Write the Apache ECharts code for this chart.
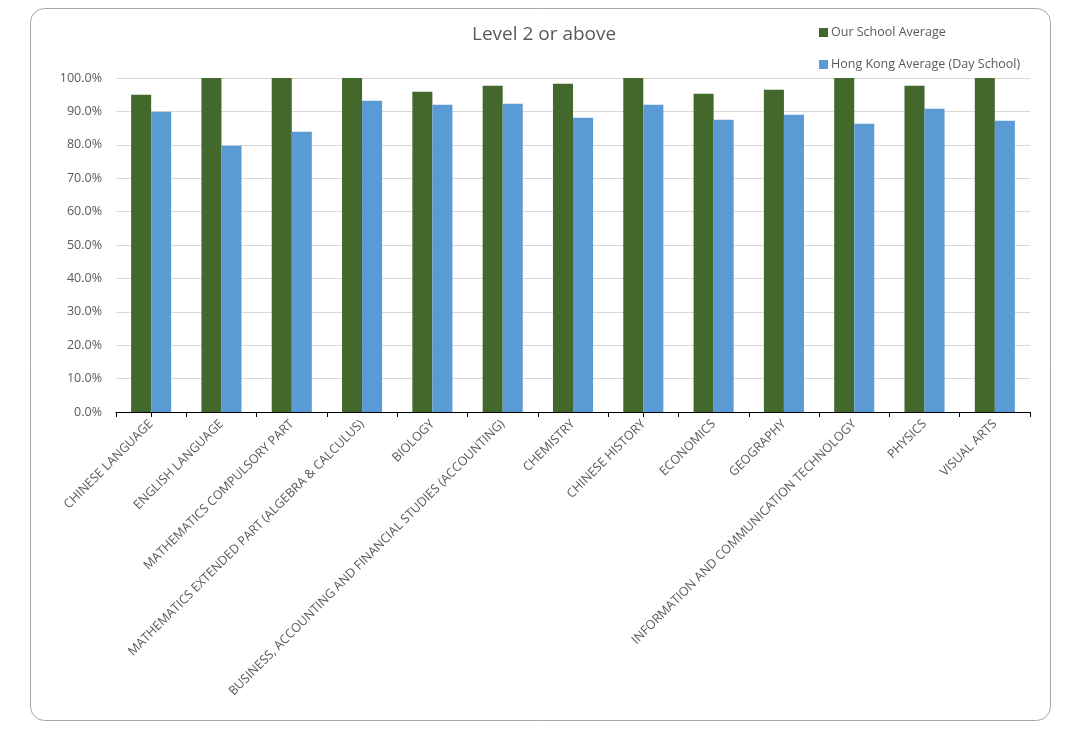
<!DOCTYPE html>
<html>
<head>
<meta charset="utf-8">
<title>Level 2 or above</title>
<script src="https://cdn.jsdelivr.net/npm/echarts@6/dist/echarts.min.js"></script>
<style>
    html, body {margin: 0; padding: 0; background: #fff;}
    #myBigChart {width: 1091px; height: 734px;}
</style>
</head>
<body>
<div id="myBigChart"></div>
<script>
'use strict'

// 科目
var subjects = [
    'CHINESE LANGUAGE',
    'ENGLISH LANGUAGE',
    'MATHEMATICS COMPULSORY PART',
    'MATHEMATICS EXTENDED PART (ALGEBRA & CALCULUS)',
    'BIOLOGY',
    'BUSINESS, ACCOUNTING AND FINANCIAL STUDIES (ACCOUNTING)',
    'CHEMISTRY',
    'CHINESE HISTORY',
    'ECONOMICS',
    'GEOGRAPHY',
    'INFORMATION AND COMMUNICATION TECHNOLOGY',
    'PHYSICS',
    'VISUAL ARTS'
];
var schoolAvg = [95.0, 100, 100, 100, 95.9, 97.7, 98.3, 100, 95.3, 96.5, 100, 97.7, 100];
var hkAvg = [89.9, 79.7, 83.9, 93.2, 92.0, 92.3, 88.1, 92.0, 87.5, 89.0, 86.3, 90.8, 87.2];

var txtColor = '#595959';
var fontName = '"Open Sans", "Noto Sans", sans-serif';

var myChart = echarts.init(document.getElementById('myBigChart'));

var option = {
    animation: false,
    textStyle: {fontFamily: fontName},
    title: {
        text: 'Level 2 or above',
        left: 467,
        top: 20,
        textStyle: {color: txtColor, fontSize: 19, fontWeight: 'normal', fontFamily: fontName}
    },
    legend: {
        orient: 'vertical',
        left: 814,
        top: 21,
        itemWidth: 9,
        itemHeight: 9,
        itemGap: 19,
        icon: 'rect',
        textStyle: {color: txtColor, fontSize: 12.5, fontFamily: fontName, padding: [0, 0, 0, -2]},
        data: ['Our School Average', 'Hong Kong Average (Day School)']
    },
    grid: {left: 116, right: 61, top: 78, bottom: 322, containLabel: false},
    xAxis: [{
        type: 'category',
        data: subjects,
        axisLine: {lineStyle: {color: '#000', width: 1}},
        axisTick: {show: true, length: 5, lineStyle: {color: '#000'}},
        axisLabel: {
            interval: 0,
            rotate: 45,
            margin: 10,
            color: txtColor,
            fontSize: 12.5,
            fontFamily: fontName
        }
    }, {
        // 中间的刻度
        type: 'category',
        data: subjects,
        position: 'bottom',
        axisLine: {show: false},
        axisTick: {show: true, alignWithLabel: true, length: 5, lineStyle: {color: '#000'}},
        axisLabel: {show: false}
    }],
    yAxis: {
        type: 'value',
        min: 0,
        max: 100,
        interval: 10,
        axisLine: {show: false},
        axisTick: {show: false},
        splitLine: {lineStyle: {color: '#d9d9d9'}},
        axisLabel: {
            margin: 14,
            color: txtColor,
            fontSize: 12.5,
            fontFamily: fontName,
            formatter: function (v) {
                return v.toFixed(1) + '%';
            }
        }
    },
    series: [{
        name: 'Our School Average',
        type: 'bar',
        xAxisIndex: 0,
        barGap: '0%',
        barCategoryGap: '43%',
        itemStyle: {color: '#43682b'},
        data: schoolAvg
    }, {
        name: 'Hong Kong Average (Day School)',
        type: 'bar',
        xAxisIndex: 0,
        itemStyle: {color: '#5b9bd5'},
        data: hkAvg
    }],
    graphic: [{
        type: 'rect',
        silent: true,
        shape: {x: 30.5, y: 8.5, width: 1020, height: 712, r: 14},
        style: {fill: 'none', stroke: '#a6a6a6', lineWidth: 1}
    }]
};

myChart.setOption(option);
</script>
</body>
</html>
